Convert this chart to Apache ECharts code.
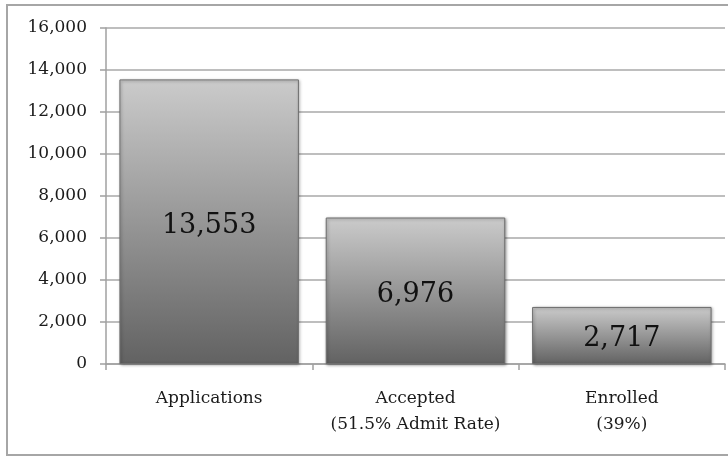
<!DOCTYPE html>
<html>
<head>
<meta charset="utf-8">
<script src="https://cdn.jsdelivr.net/npm/echarts@6/dist/echarts.min.js"></script>
<style>
html,body{margin:0;padding:0;background:#fff;}
#main{width:728px;height:456px;}
</style>
</head>
<body>
<div id="main"></div>
<script>
var categories = ['Applications', 'Accepted\n(51.5% Admit Rate)', 'Enrolled\n(39%)'];
var values = [13553, 6976, 2717];
var yMin = 0, yMax = 16000, yInterval = 2000;

var chart = echarts.init(document.getElementById('main'), null, {renderer: 'canvas'});
var serif = '"DejaVu Serif", "Liberation Serif", serif';
var option = {
  animation: false,
  backgroundColor: '#fff',
  graphic: [{
    type: 'rect', silent: true, z: -1,
    shape: {x: 7, y: 5, width: 740, height: 450},
    style: {fill: 'none', stroke: '#a6a6a6', lineWidth: 2}
  }],
  grid: {left: 106, right: 3, top: 28, bottom: 92},
  xAxis: {
    type: 'category',
    data: categories,
    axisLine: {show: true, lineStyle: {color: '#a0a0a0', width: 1.5}},
    axisTick: {show: true, length: 6, alignWithLabel: false, lineStyle: {color: '#a0a0a0', width: 1.5}},
    axisLabel: {
      color: '#1a1a1a', fontFamily: serif, fontSize: 17, lineHeight: 26, margin: 22, interval: 0
    }
  },
  yAxis: {
    type: 'value',
    min: yMin, max: yMax, interval: yInterval,
    axisLine: {show: true, lineStyle: {color: '#a0a0a0', width: 1.5}},
    axisTick: {show: true, length: 6, lineStyle: {color: '#a0a0a0', width: 1.5}},
    splitLine: {show: true, lineStyle: {color: '#a8a8a8', width: 1.5}},
    axisLabel: {
      color: '#1a1a1a', fontFamily: serif, fontSize: 17, margin: 19,
      formatter: function (v) { return v.toLocaleString('en-US'); }
    }
  },
  series: [{
    type: 'bar',
    data: values,
    barCategoryGap: '13%',
    itemStyle: {
      color: {
        type: 'linear', x: 0, y: 0, x2: 0, y2: 1,
        colorStops: [
          {offset: 0, color: '#cbcbcb'},
          {offset: 1, color: '#626262'}
        ]
      },
      borderColor: '#6e6e6e',
      borderWidth: 1,
      shadowColor: 'rgba(0,0,0,0.35)',
      shadowBlur: 3,
      shadowOffsetX: 1,
      shadowOffsetY: 1
    },
    label: {
      show: true,
      position: 'inside',
      offset: [0, 4],
      color: '#111',
      fontFamily: serif,
      fontSize: 27,
      formatter: function (p) { return p.value.toLocaleString('en-US'); }
    }
  }]
};
chart.setOption(option);
</script>
</body>
</html>
